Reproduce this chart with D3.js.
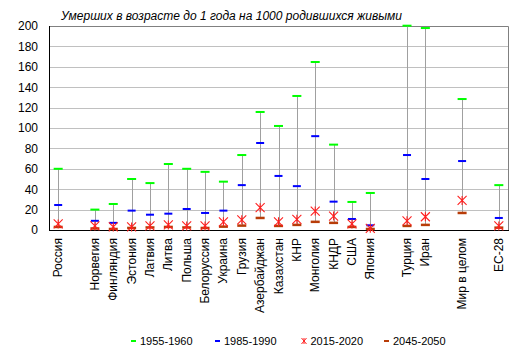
<!DOCTYPE html>
<html><head><meta charset="utf-8">
<script src="https://cdn.jsdelivr.net/npm/d3@7"></script>
<style>body{margin:0;background:#fff}svg{display:block}text{font-family:"Liberation Sans",Arial,sans-serif}</style>
</head><body>
<svg id="c" width="521" height="358"></svg>
<script>
const title = "Умерших в возрасте до 1 года на 1000 родившихся живыми";
const categories = ["Россия","","Норвегия","Финляндия","Эстония","Латвия","Литва","Польша","Белоруссия","Украина","Грузия","Азербайджан","Казахстан","КНР","Монголия","КНДР","США","Япония","","Турция","Иран","","Мир в целом","","ЕС-28"];
const seriesNames = ["1955-1960","1985-1990","2015-2020","2045-2050"];
const v1955 = [60,null,20,25.5,50,46,64.7,60,57,47.4,73.5,115.7,102,131.4,164.7,83.7,27.5,36.3,null,200.3,198,null,128.4,null,44];
const v1985 = [24.5,null,9,7,19,15,16,20.6,16.7,19,44,85.3,53,43,92,27.8,10.8,4.6,null,73.5,50,null,67.6,null,11.8];
const v2015 = [6,null,4,3,3,4,5,4,4,8,10,21.9,8,10.5,18.6,13.7,6,1.7,null,9,13,null,29,null,4];
const v2045 = [3,null,1.5,1,2,2.5,3,2.5,2,3.3,4.3,11.8,4,5,8,7,3,1,null,4,5,null,16.7,null,2.3];
const yTicks = [0,20,40,60,80,100,120,140,160,180,200];

const svg = d3.select("#c");
const L=49, R=508, T=26, B=230;
const x = d3.scaleBand().domain(d3.range(categories.length)).range([L,R]).padding(0);
const y = d3.scaleLinear().domain([0,200]).range([B,T]);
const cx = i => x(i) + x.bandwidth()/2;

// gridlines
svg.append("g").selectAll("line").data(yTicks.slice(1)).join("line")
  .attr("x1",L).attr("x2",R).attr("y1",d=>Math.round(y(d))+0.5).attr("y2",d=>Math.round(y(d))+0.5)
  .attr("stroke","#c0c0c0").attr("stroke-width",1);
// frame
svg.append("path").attr("d",`M${L+0.5},${T+0.5}H${R+0.5}V${B+0.5}`).attr("fill","none").attr("stroke","#808080");
// y axis labels
const yAxis = d3.axisLeft(y).tickValues(yTicks).tickSize(0).tickPadding(11);
const gy = svg.append("g").attr("transform",`translate(${L},0)`).call(yAxis);
gy.select(".domain").attr("stroke","#000").attr("d",`M0.5,${T}V${B+0.5}`);
gy.selectAll("text").attr("font-size",12).attr("font-family","Liberation Sans, Arial, sans-serif").attr("fill","#000");

const idx = d3.range(categories.length).filter(i=>v1955[i]!=null);
// high-low lines
svg.append("g").selectAll("line").data(idx).join("line")
  .attr("x1",i=>Math.round(cx(i))+0.5).attr("x2",i=>Math.round(cx(i))+0.5)
  .attr("y1",i=>y(Math.max(v1955[i],v1985[i],v2015[i],v2045[i])))
  .attr("y2",i=>y(Math.min(v1955[i],v1985[i],v2015[i],v2045[i])))
  .attr("stroke","#a0a0a0").attr("stroke-width",1);

// x axis line
svg.append("line").attr("x1",L).attr("x2",R+1).attr("y1",B+0.5).attr("y2",B+0.5).attr("stroke","#000");

// x labels
svg.append("g").selectAll("text").data(d3.range(categories.length)).join("text")
  .attr("transform",i=>`translate(${cx(i)+4},${B+8}) rotate(-90)`)
  .attr("text-anchor","end").attr("font-size",12).attr("fill","#000")
  .text(i=>categories[i]);

function dash(data,color,w,h){
  svg.append("g").selectAll("rect").data(idx).join("rect")
    .attr("x",i=>cx(i)-w/2).attr("y",i=>y(data[i])-h/2).attr("width",w).attr("height",h).attr("fill",color);
}
const starPath = s => `M${-s},${-s}L${s},${s}M${-s},${s}L${s},${-s}M0,${-s}L0,${s}`;
dash(v2045,"#b83c08",9,2.5);
dash(v1955,"#00ff00",9,2);
dash(v1985,"#0000ff",8,2);
svg.append("g").selectAll("path").data(idx).join("path")
  .attr("transform",i=>`translate(${cx(i)},${y(v2015[i])})`)
  .attr("d",starPath(4.5)).attr("stroke","#ff2020").attr("stroke-width",1.1).attr("fill","none");

// title
svg.append("text").attr("x",61).attr("y",19.5).attr("font-size",12).attr("font-style","italic")
  .attr("textLength",341).attr("lengthAdjust","spacingAndGlyphs").text(title);

// legend
const legX = [133.5,217.5,304,386.5];
const colors = ["#00ff00","#0000ff","#ff2020","#b83c08"];
const lg = svg.append("g");
seriesNames.forEach((n,k)=>{
  const g = lg.append("g").attr("transform",`translate(${legX[k]},341)`);
  if(k===2){
    g.append("path").attr("d",`M-2.5,-3L2.5,3M-2.5,3L2.5,-3M0,-3L0,3`).attr("stroke",colors[k]).attr("fill","none");
  } else {
    g.append("rect").attr("x",-2.5).attr("y",-1).attr("width",5).attr("height",2).attr("fill",colors[k]);
  }
  g.append("text").attr("x",6.5).attr("y",4).attr("font-size",11).attr("fill","#000").text(n);
});
</script>
</body></html>
